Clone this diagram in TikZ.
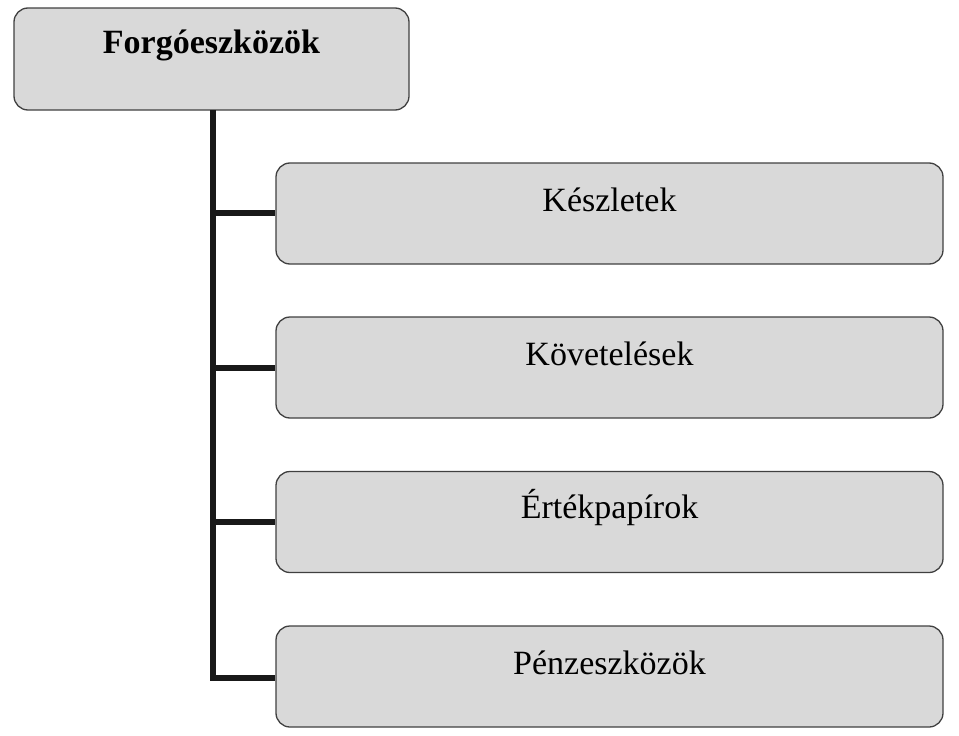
\documentclass[tikz,border=0pt]{standalone}
\usepackage{fontspec}
\setmainfont{Liberation Serif}
\begin{document}
\begin{tikzpicture}[x=1pt,y=-1pt,
  box/.style={draw=black!75,line width=1.3pt,fill=black!15,rounded corners=14pt,inner sep=0pt},
  conn/.style={line width=5.5pt,black!90}]
\useasboundingbox (0,0) rectangle (959,736);
\node[box,minimum width=395pt,minimum height=102pt] (top) at (211.5,59) {};
\node at (211.5,45) {\fontsize{34}{40}\selectfont\bfseries Forgóeszközök};
\foreach \n/\y/\t in {a/213.5/Készletek,b/367.5/Követelések,c/522/Értékpapírok,d/676.5/Pénzeszközök}{
  \node[box,minimum width=667pt,minimum height=101pt] (\n) at (609.5,\y) {};
  \node at (609.5,\y-14) {\fontsize{34}{40}\selectfont \t};
}
\coordinate (v) at (213,110);
\draw[conn] (v) -- (213,678) -- (d.west |- 0,678);
\foreach \n/\y in {a/213,b/368,c/522}{\draw[conn] (213,\y) -- (\n.west |- 0,\y);}
\end{tikzpicture}
\end{document}
